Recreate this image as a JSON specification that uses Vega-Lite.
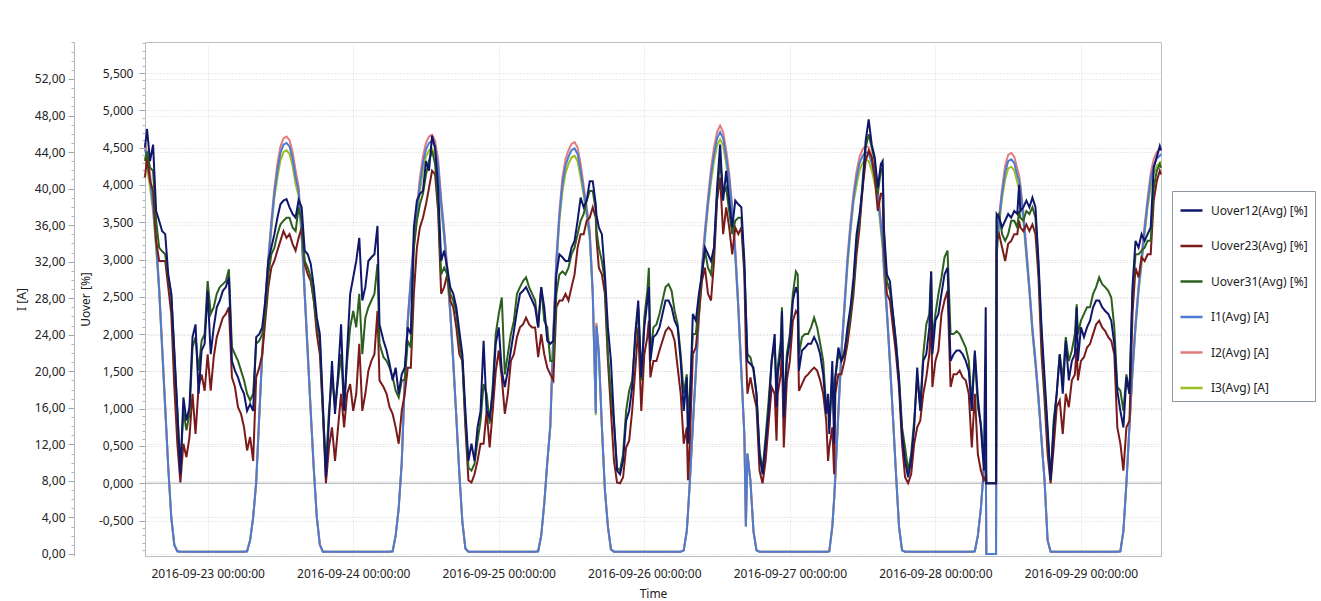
{
"$schema":"https://vega.github.io/schema/vega-lite/v6.json",
"width":1016,"height":514,
"autosize":{"type":"none"},
"padding":{"left":145,"top":42,"right":160,"bottom":45},
"background":"#ffffff",
"config":{
 "font":"Noto Sans",
 "view":{"stroke":"#b9bec6","strokeWidth":1},
 "axis":{"labelFont":"Noto Sans","labelFontSize":12,"labelColor":"#222222","titleFont":"Noto Sans","titleFontSize":12,"titleFontWeight":"normal","titleColor":"#222222","gridColor":"#d8d8d8","gridDash":[1,2],"domainColor":"#b9bec6","tickColor":"#a0a6ae"}
},
"data":{"values":[
{"t":"2016-09-22T13:40","u12":4.5,"u23":4.1,"u31":4.32,"i1":44.3,"i2":45.0,"i3":43.5},
{"t":"2016-09-22T14:00","u12":4.75,"u23":4.37,"u31":4.45,"i1":43.2,"i2":43.9,"i3":42.4},
{"t":"2016-09-22T14:30","u12":4.32,"u23":4.05,"u31":4.23,"i1":41.0,"i2":41.7,"i3":40.2},
{"t":"2016-09-22T15:00","u12":4.54,"u23":3.92,"u31":4.19,"i1":38.0,"i2":38.5,"i3":37.5},
{"t":"2016-09-22T15:30","u12":3.65,"u23":3.25,"u31":3.52,"i1":34.0,"i2":34.5,"i3":33.5},
{"t":"2016-09-22T16:00","u12":3.52,"u23":2.98,"u31":3.16,"i1":29.0,"i2":29.3,"i3":28.7},
{"t":"2016-09-22T16:30","u12":3.38,"u23":2.98,"u31":3.11,"i1":22.5,"i2":22.8,"i3":22.2},
{"t":"2016-09-22T17:00","u12":3.34,"u23":2.98,"u31":3.07,"i1":16.0,"i2":16.3,"i3":15.7},
{"t":"2016-09-22T17:30","u12":2.8,"u23":2.63,"u31":2.76,"i1":9.5,"i2":9.5,"i3":9.5},
{"t":"2016-09-22T18:00","u12":2.54,"u23":2.27,"u31":2.54,"i1":4.0,"i2":4.0,"i3":4.0},
{"t":"2016-09-22T18:30","u12":1.78,"u23":1.29,"u31":1.73,"i1":1.0,"i2":1.0,"i3":1.0},
{"t":"2016-09-22T19:00","u12":0.97,"u23":0.53,"u31":0.97,"i1":0.3,"i2":0.3,"i3":0.3},
{"t":"2016-09-22T19:30","u12":0.12,"u23":0.01,"u31":0.21,"i1":0.25,"i2":0.25,"i3":0.25},
{"t":"2016-09-22T20:00","u12":1.15,"u23":0.53,"u31":0.97,"i1":0.25,"i2":0.25,"i3":0.25},
{"t":"2016-09-22T20:30","u12":0.84,"u23":0.35,"u31":0.71,"i1":0.25,"i2":0.25,"i3":0.25},
{"t":"2016-09-22T21:00","u12":1.02,"u23":0.62,"u31":0.93,"i1":0.25,"i2":0.25,"i3":0.25},
{"t":"2016-09-22T21:30","u12":1.96,"u23":1.2,"u31":1.82,"i1":0.25,"i2":0.25,"i3":0.25},
{"t":"2016-09-22T22:00","u12":2.13,"u23":0.66,"u31":1.96,"i1":0.25,"i2":0.25,"i3":0.25},
{"t":"2016-09-22T22:30","u12":1.2,"u23":1.29,"u31":1.51,"i1":0.25,"i2":0.25,"i3":0.25},
{"t":"2016-09-22T23:00","u12":1.78,"u23":1.46,"u31":1.91,"i1":0.25,"i2":0.25,"i3":0.25},
{"t":"2016-09-22T23:30","u12":1.87,"u23":1.24,"u31":2.0,"i1":0.25,"i2":0.25,"i3":0.25},
{"t":"2016-09-23T00:00","u12":2.58,"u23":1.73,"u31":2.71,"i1":0.25,"i2":0.25,"i3":0.25},
{"t":"2016-09-23T00:30","u12":1.73,"u23":1.24,"u31":2.27,"i1":0.25,"i2":0.25,"i3":0.25},
{"t":"2016-09-23T01:00","u12":2.09,"u23":1.69,"u31":2.36,"i1":0.25,"i2":0.25,"i3":0.25},
{"t":"2016-09-23T01:30","u12":2.36,"u23":1.96,"u31":2.54,"i1":0.25,"i2":0.25,"i3":0.25},
{"t":"2016-09-23T02:00","u12":2.45,"u23":2.09,"u31":2.63,"i1":0.25,"i2":0.25,"i3":0.25},
{"t":"2016-09-23T02:30","u12":2.58,"u23":2.22,"u31":2.67,"i1":0.25,"i2":0.25,"i3":0.25},
{"t":"2016-09-23T03:00","u12":2.63,"u23":2.27,"u31":2.71,"i1":0.25,"i2":0.25,"i3":0.25},
{"t":"2016-09-23T03:30","u12":2.76,"u23":2.36,"u31":2.87,"i1":0.25,"i2":0.25,"i3":0.25},
{"t":"2016-09-23T04:00","u12":1.64,"u23":1.42,"u31":1.82,"i1":0.25,"i2":0.25,"i3":0.25},
{"t":"2016-09-23T04:30","u12":1.51,"u23":1.29,"u31":1.73,"i1":0.25,"i2":0.25,"i3":0.25},
{"t":"2016-09-23T05:00","u12":1.42,"u23":1.02,"u31":1.64,"i1":0.25,"i2":0.25,"i3":0.25},
{"t":"2016-09-23T05:30","u12":1.29,"u23":0.93,"u31":1.51,"i1":0.25,"i2":0.25,"i3":0.25},
{"t":"2016-09-23T06:00","u12":1.2,"u23":0.75,"u31":1.38,"i1":0.25,"i2":0.25,"i3":0.25},
{"t":"2016-09-23T06:30","u12":0.97,"u23":0.44,"u31":1.2,"i1":0.3,"i2":0.3,"i3":0.3},
{"t":"2016-09-23T07:00","u12":1.06,"u23":0.62,"u31":1.11,"i1":1.5,"i2":1.5,"i3":1.5},
{"t":"2016-09-23T07:30","u12":0.97,"u23":0.3,"u31":1.2,"i1":4.0,"i2":4.0,"i3":4.0},
{"t":"2016-09-23T08:00","u12":1.96,"u23":1.42,"u31":1.87,"i1":7.8,"i2":7.8,"i3":7.8},
{"t":"2016-09-23T08:30","u12":2.0,"u23":1.55,"u31":1.91,"i1":15.0,"i2":15.0,"i3":15.0},
{"t":"2016-09-23T09:00","u12":2.09,"u23":1.73,"u31":2.0,"i1":22.0,"i2":22.3,"i3":21.7},
{"t":"2016-09-23T09:30","u12":2.45,"u23":2.18,"u31":2.27,"i1":27.5,"i2":27.8,"i3":27.2},
{"t":"2016-09-23T10:00","u12":2.98,"u23":2.63,"u31":2.8,"i1":32.0,"i2":32.5,"i3":31.5},
{"t":"2016-09-23T10:30","u12":3.16,"u23":2.89,"u31":3.07,"i1":36.0,"i2":36.5,"i3":35.5},
{"t":"2016-09-23T11:00","u12":3.34,"u23":2.98,"u31":3.16,"i1":39.5,"i2":40.0,"i3":39.0},
{"t":"2016-09-23T11:30","u12":3.56,"u23":3.12,"u31":3.34,"i1":42.0,"i2":42.7,"i3":41.2},
{"t":"2016-09-23T12:00","u12":3.74,"u23":3.25,"u31":3.47,"i1":43.9,"i2":44.6,"i3":43.1},
{"t":"2016-09-23T12:30","u12":3.79,"u23":3.38,"u31":3.52,"i1":44.8,"i2":45.5,"i3":44.0},
{"t":"2016-09-23T13:00","u12":3.81,"u23":3.29,"u31":3.56,"i1":45.0,"i2":45.7,"i3":44.2},
{"t":"2016-09-23T13:30","u12":3.7,"u23":3.34,"u31":3.56,"i1":44.6,"i2":45.3,"i3":43.8},
{"t":"2016-09-23T14:00","u12":3.61,"u23":3.21,"u31":3.43,"i1":43.3,"i2":44.0,"i3":42.5},
{"t":"2016-09-23T14:30","u12":3.56,"u23":3.12,"u31":3.38,"i1":41.3,"i2":42.0,"i3":40.5},
{"t":"2016-09-23T15:00","u12":3.8,"u23":3.29,"u31":3.7,"i1":39.7,"i2":40.2,"i3":39.2},
{"t":"2016-09-23T15:30","u12":3.7,"u23":3.43,"u31":3.52,"i1":35.0,"i2":35.5,"i3":34.5},
{"t":"2016-09-23T16:00","u12":3.12,"u23":2.94,"u31":2.98,"i1":28.5,"i2":28.8,"i3":28.2},
{"t":"2016-09-23T16:30","u12":3.07,"u23":2.8,"u31":2.89,"i1":22.0,"i2":22.3,"i3":21.7},
{"t":"2016-09-23T17:00","u12":2.94,"u23":2.71,"u31":2.76,"i1":15.5,"i2":15.5,"i3":15.5},
{"t":"2016-09-23T17:30","u12":2.63,"u23":2.45,"u31":2.45,"i1":9.3,"i2":9.3,"i3":9.3},
{"t":"2016-09-23T18:00","u12":2.22,"u23":2.0,"u31":2.13,"i1":4.0,"i2":4.0,"i3":4.0},
{"t":"2016-09-23T18:30","u12":2.0,"u23":1.73,"u31":1.91,"i1":1.0,"i2":1.0,"i3":1.0},
{"t":"2016-09-23T19:00","u12":1.07,"u23":0.93,"u31":0.97,"i1":0.25,"i2":0.25,"i3":0.25},
{"t":"2016-09-23T19:30","u12":0.08,"u23":0.0,"u31":0.21,"i1":0.25,"i2":0.25,"i3":0.25},
{"t":"2016-09-23T20:00","u12":0.84,"u23":0.48,"u31":0.97,"i1":0.25,"i2":0.25,"i3":0.25},
{"t":"2016-09-23T20:30","u12":1.64,"u23":0.75,"u31":1.42,"i1":0.25,"i2":0.25,"i3":0.25},
{"t":"2016-09-23T21:00","u12":0.93,"u23":0.3,"u31":1.02,"i1":0.25,"i2":0.25,"i3":0.25},
{"t":"2016-09-23T21:30","u12":1.46,"u23":0.75,"u31":1.38,"i1":0.25,"i2":0.25,"i3":0.25},
{"t":"2016-09-23T22:00","u12":2.13,"u23":1.2,"u31":1.73,"i1":0.25,"i2":0.25,"i3":0.25},
{"t":"2016-09-23T22:30","u12":0.97,"u23":0.75,"u31":1.02,"i1":0.25,"i2":0.25,"i3":0.25},
{"t":"2016-09-23T23:00","u12":1.78,"u23":1.2,"u31":1.64,"i1":0.25,"i2":0.25,"i3":0.25},
{"t":"2016-09-23T23:30","u12":2.54,"u23":1.33,"u31":2.09,"i1":0.25,"i2":0.25,"i3":0.25},
{"t":"2016-09-24T00:00","u12":2.76,"u23":0.97,"u31":2.31,"i1":0.25,"i2":0.25,"i3":0.25},
{"t":"2016-09-24T00:30","u12":2.98,"u23":1.2,"u31":2.09,"i1":0.25,"i2":0.25,"i3":0.25},
{"t":"2016-09-24T01:00","u12":3.29,"u23":1.87,"u31":2.54,"i1":0.25,"i2":0.25,"i3":0.25},
{"t":"2016-09-24T01:30","u12":2.45,"u23":0.97,"u31":1.73,"i1":0.25,"i2":0.25,"i3":0.25},
{"t":"2016-09-24T02:00","u12":2.63,"u23":1.2,"u31":2.22,"i1":0.25,"i2":0.25,"i3":0.25},
{"t":"2016-09-24T02:30","u12":2.98,"u23":1.51,"u31":2.36,"i1":0.25,"i2":0.25,"i3":0.25},
{"t":"2016-09-24T03:00","u12":3.03,"u23":1.64,"u31":2.45,"i1":0.25,"i2":0.25,"i3":0.25},
{"t":"2016-09-24T03:30","u12":3.07,"u23":1.73,"u31":2.54,"i1":0.25,"i2":0.25,"i3":0.25},
{"t":"2016-09-24T04:00","u12":3.45,"u23":2.31,"u31":2.94,"i1":0.25,"i2":0.25,"i3":0.25},
{"t":"2016-09-24T04:20","u12":2.13,"u23":1.38,"u31":1.87,"i1":0.25,"i2":0.25,"i3":0.25},
{"t":"2016-09-24T05:00","u12":1.91,"u23":1.29,"u31":1.69,"i1":0.25,"i2":0.25,"i3":0.25},
{"t":"2016-09-24T05:30","u12":1.78,"u23":1.2,"u31":1.64,"i1":0.25,"i2":0.25,"i3":0.25},
{"t":"2016-09-24T06:00","u12":1.6,"u23":1.02,"u31":1.55,"i1":0.25,"i2":0.25,"i3":0.25},
{"t":"2016-09-24T06:30","u12":1.38,"u23":0.93,"u31":1.42,"i1":0.3,"i2":0.3,"i3":0.3},
{"t":"2016-09-24T07:00","u12":1.55,"u23":0.75,"u31":1.24,"i1":2.0,"i2":2.0,"i3":2.0},
{"t":"2016-09-24T07:30","u12":1.2,"u23":0.53,"u31":1.15,"i1":5.0,"i2":5.0,"i3":5.0},
{"t":"2016-09-24T08:00","u12":1.46,"u23":0.97,"u31":1.38,"i1":10.0,"i2":10.0,"i3":10.0},
{"t":"2016-09-24T08:30","u12":1.55,"u23":1.2,"u31":1.38,"i1":19.0,"i2":19.3,"i3":18.7},
{"t":"2016-09-24T09:00","u12":2.09,"u23":1.55,"u31":1.91,"i1":25.5,"i2":25.8,"i3":25.2},
{"t":"2016-09-24T09:30","u12":2.0,"u23":1.55,"u31":1.82,"i1":30.0,"i2":30.3,"i3":29.7},
{"t":"2016-09-24T10:00","u12":3.43,"u23":2.54,"u31":3.16,"i1":34.0,"i2":34.5,"i3":33.5},
{"t":"2016-09-24T10:30","u12":3.79,"u23":3.16,"u31":3.52,"i1":37.5,"i2":38.0,"i3":37.0},
{"t":"2016-09-24T11:00","u12":3.88,"u23":3.43,"u31":3.74,"i1":40.5,"i2":41.2,"i3":39.7},
{"t":"2016-09-24T11:30","u12":3.92,"u23":3.56,"u31":3.88,"i1":42.8,"i2":43.5,"i3":42.0},
{"t":"2016-09-24T12:00","u12":4.32,"u23":3.74,"u31":4.14,"i1":44.3,"i2":45.0,"i3":43.5},
{"t":"2016-09-24T12:30","u12":4.19,"u23":3.96,"u31":4.32,"i1":45.0,"i2":45.7,"i3":44.2},
{"t":"2016-09-24T13:00","u12":4.66,"u23":4.19,"u31":4.46,"i1":45.2,"i2":45.9,"i3":44.4},
{"t":"2016-09-24T13:30","u12":4.5,"u23":4.14,"u31":4.28,"i1":44.5,"i2":45.2,"i3":43.7},
{"t":"2016-09-24T14:00","u12":3.96,"u23":3.65,"u31":3.74,"i1":42.5,"i2":43.2,"i3":41.7},
{"t":"2016-09-24T14:30","u12":2.98,"u23":2.54,"u31":2.8,"i1":38.5,"i2":39.0,"i3":38.0},
{"t":"2016-09-24T15:00","u12":3.12,"u23":2.63,"u31":2.89,"i1":35.0,"i2":35.5,"i3":34.5},
{"t":"2016-09-24T15:30","u12":2.89,"u23":2.8,"u31":2.8,"i1":31.0,"i2":31.5,"i3":30.5},
{"t":"2016-09-24T16:00","u12":2.63,"u23":2.45,"u31":2.54,"i1":26.5,"i2":26.8,"i3":26.2},
{"t":"2016-09-24T16:30","u12":2.54,"u23":2.36,"u31":2.45,"i1":21.0,"i2":21.3,"i3":20.7},
{"t":"2016-09-24T17:00","u12":2.36,"u23":2.09,"u31":2.27,"i1":15.0,"i2":15.0,"i3":15.0},
{"t":"2016-09-24T17:30","u12":2.04,"u23":1.73,"u31":1.91,"i1":8.8,"i2":8.8,"i3":8.8},
{"t":"2016-09-24T18:00","u12":1.73,"u23":1.64,"u31":1.64,"i1":3.5,"i2":3.5,"i3":3.5},
{"t":"2016-09-24T18:30","u12":0.97,"u23":0.75,"u31":0.84,"i1":0.6,"i2":0.6,"i3":0.6},
{"t":"2016-09-24T19:00","u12":0.3,"u23":0.04,"u31":0.21,"i1":0.25,"i2":0.25,"i3":0.25},
{"t":"2016-09-24T19:30","u12":0.53,"u23":0.01,"u31":0.17,"i1":0.25,"i2":0.25,"i3":0.25},
{"t":"2016-09-24T20:00","u12":0.3,"u23":0.12,"u31":0.26,"i1":0.25,"i2":0.25,"i3":0.25},
{"t":"2016-09-24T20:30","u12":0.75,"u23":0.3,"u31":0.57,"i1":0.25,"i2":0.25,"i3":0.25},
{"t":"2016-09-24T21:00","u12":0.97,"u23":0.53,"u31":0.84,"i1":0.25,"i2":0.25,"i3":0.25},
{"t":"2016-09-24T21:30","u12":1.91,"u23":0.53,"u31":1.33,"i1":0.25,"i2":0.25,"i3":0.25},
{"t":"2016-09-24T22:00","u12":0.97,"u23":0.97,"u31":1.2,"i1":0.25,"i2":0.25,"i3":0.25},
{"t":"2016-09-24T22:30","u12":0.88,"u23":0.48,"u31":0.8,"i1":0.25,"i2":0.25,"i3":0.25},
{"t":"2016-09-24T23:00","u12":1.2,"u23":0.97,"u31":1.29,"i1":0.25,"i2":0.25,"i3":0.25},
{"t":"2016-09-24T23:30","u12":1.87,"u23":1.5,"u31":2.0,"i1":0.25,"i2":0.25,"i3":0.25},
{"t":"2016-09-25T00:00","u12":2.09,"u23":1.78,"u31":2.27,"i1":0.25,"i2":0.25,"i3":0.25},
{"t":"2016-09-25T00:30","u12":1.51,"u23":1.42,"u31":2.49,"i1":0.25,"i2":0.25,"i3":0.25},
{"t":"2016-09-25T01:00","u12":1.29,"u23":0.93,"u31":1.46,"i1":0.25,"i2":0.25,"i3":0.25},
{"t":"2016-09-25T01:30","u12":1.51,"u23":1.2,"u31":1.73,"i1":0.25,"i2":0.25,"i3":0.25},
{"t":"2016-09-25T02:00","u12":1.78,"u23":1.64,"u31":2.0,"i1":0.25,"i2":0.25,"i3":0.25},
{"t":"2016-09-25T02:30","u12":2.04,"u23":1.73,"u31":2.18,"i1":0.25,"i2":0.25,"i3":0.25},
{"t":"2016-09-25T03:00","u12":2.31,"u23":1.96,"u31":2.54,"i1":0.25,"i2":0.25,"i3":0.25},
{"t":"2016-09-25T03:30","u12":2.54,"u23":2.09,"u31":2.63,"i1":0.25,"i2":0.25,"i3":0.25},
{"t":"2016-09-25T04:00","u12":2.58,"u23":2.13,"u31":2.71,"i1":0.25,"i2":0.25,"i3":0.25},
{"t":"2016-09-25T04:30","u12":2.63,"u23":2.22,"u31":2.76,"i1":0.25,"i2":0.25,"i3":0.25},
{"t":"2016-09-25T05:00","u12":2.54,"u23":2.13,"u31":2.63,"i1":0.25,"i2":0.25,"i3":0.25},
{"t":"2016-09-25T05:30","u12":2.45,"u23":2.09,"u31":2.54,"i1":0.25,"i2":0.25,"i3":0.25},
{"t":"2016-09-25T06:00","u12":2.36,"u23":2.09,"u31":2.45,"i1":0.25,"i2":0.25,"i3":0.25},
{"t":"2016-09-25T06:30","u12":2.09,"u23":1.69,"u31":2.09,"i1":0.3,"i2":0.3,"i3":0.3},
{"t":"2016-09-25T07:00","u12":2.63,"u23":2.0,"u31":2.63,"i1":2.0,"i2":2.0,"i3":2.0},
{"t":"2016-09-25T07:30","u12":2.36,"u23":1.73,"u31":2.18,"i1":5.5,"i2":5.5,"i3":5.5},
{"t":"2016-09-25T08:00","u12":1.91,"u23":1.55,"u31":2.09,"i1":10.0,"i2":10.0,"i3":10.0},
{"t":"2016-09-25T08:30","u12":1.87,"u23":1.46,"u31":1.64,"i1":14.0,"i2":14.0,"i3":14.0},
{"t":"2016-09-25T09:00","u12":1.91,"u23":1.38,"u31":1.64,"i1":24.0,"i2":24.3,"i3":23.7},
{"t":"2016-09-25T09:30","u12":2.8,"u23":2.36,"u31":2.54,"i1":32.0,"i2":32.5,"i3":31.5},
{"t":"2016-09-25T10:00","u12":3.07,"u23":2.45,"u31":2.8,"i1":37.0,"i2":37.5,"i3":36.5},
{"t":"2016-09-25T10:30","u12":3.03,"u23":2.45,"u31":2.84,"i1":40.5,"i2":41.2,"i3":39.7},
{"t":"2016-09-25T11:00","u12":2.98,"u23":2.54,"u31":2.8,"i1":42.5,"i2":43.2,"i3":41.7},
{"t":"2016-09-25T11:30","u12":2.98,"u23":2.45,"u31":2.89,"i1":43.5,"i2":44.2,"i3":42.7},
{"t":"2016-09-25T12:00","u12":3.16,"u23":2.63,"u31":3.07,"i1":44.2,"i2":44.9,"i3":43.4},
{"t":"2016-09-25T12:30","u12":3.25,"u23":2.8,"u31":3.16,"i1":44.4,"i2":45.1,"i3":43.6},
{"t":"2016-09-25T13:00","u12":3.52,"u23":3.16,"u31":3.34,"i1":43.8,"i2":44.5,"i3":43.0},
{"t":"2016-09-25T13:30","u12":3.83,"u23":3.34,"u31":3.52,"i1":42.0,"i2":42.7,"i3":41.2},
{"t":"2016-09-25T14:00","u12":3.7,"u23":3.34,"u31":3.61,"i1":39.8,"i2":40.3,"i3":39.3},
{"t":"2016-09-25T14:30","u12":3.79,"u23":3.52,"u31":3.79,"i1":37.5,"i2":38.0,"i3":37.0},
{"t":"2016-09-25T15:00","u12":4.05,"u23":3.56,"u31":3.92,"i1":35.0,"i2":35.5,"i3":34.5},
{"t":"2016-09-25T15:30","u12":4.05,"u23":3.7,"u31":3.92,"i1":28.5,"i2":28.8,"i3":28.2},
{"t":"2016-09-25T16:00","u12":3.74,"u23":3.56,"u31":3.65,"i1":15.4,"i2":15.6,"i3":15.2},
{"t":"2016-09-25T16:06","u12":3.6,"u23":3.3,"u31":3.4,"i1":25.0,"i2":25.3,"i3":24.7},
{"t":"2016-09-25T16:30","u12":3.43,"u23":2.89,"u31":3.16,"i1":22.0,"i2":22.3,"i3":21.7},
{"t":"2016-09-25T17:00","u12":3.34,"u23":2.8,"u31":2.98,"i1":14.0,"i2":14.0,"i3":14.0},
{"t":"2016-09-25T17:30","u12":2.8,"u23":2.54,"u31":2.71,"i1":7.0,"i2":7.0,"i3":7.0},
{"t":"2016-09-25T18:00","u12":2.09,"u23":1.64,"u31":1.73,"i1":3.0,"i2":3.0,"i3":3.0},
{"t":"2016-09-25T18:30","u12":1.64,"u23":0.97,"u31":1.2,"i1":0.5,"i2":0.5,"i3":0.5},
{"t":"2016-09-25T19:00","u12":0.84,"u23":0.3,"u31":0.8,"i1":0.25,"i2":0.25,"i3":0.25},
{"t":"2016-09-25T19:30","u12":0.17,"u23":0.01,"u31":0.21,"i1":0.25,"i2":0.25,"i3":0.25},
{"t":"2016-09-25T20:00","u12":0.12,"u23":0.0,"u31":0.17,"i1":0.25,"i2":0.25,"i3":0.25},
{"t":"2016-09-25T20:30","u12":0.3,"u23":0.08,"u31":0.39,"i1":0.25,"i2":0.25,"i3":0.25},
{"t":"2016-09-25T21:00","u12":0.84,"u23":0.48,"u31":0.97,"i1":0.25,"i2":0.25,"i3":0.25},
{"t":"2016-09-25T21:30","u12":0.97,"u23":0.57,"u31":1.24,"i1":0.25,"i2":0.25,"i3":0.25},
{"t":"2016-09-25T22:00","u12":1.29,"u23":0.97,"u31":1.38,"i1":0.25,"i2":0.25,"i3":0.25},
{"t":"2016-09-25T22:30","u12":2.0,"u23":1.51,"u31":1.91,"i1":0.25,"i2":0.25,"i3":0.25},
{"t":"2016-09-25T23:00","u12":2.45,"u23":2.09,"u31":2.36,"i1":0.25,"i2":0.25,"i3":0.25},
{"t":"2016-09-25T23:30","u12":1.42,"u23":0.97,"u31":1.38,"i1":0.25,"i2":0.25,"i3":0.25},
{"t":"2016-09-26T00:00","u12":2.09,"u23":1.73,"u31":2.22,"i1":0.25,"i2":0.25,"i3":0.25},
{"t":"2016-09-26T00:30","u12":2.45,"u23":1.96,"u31":2.58,"i1":0.25,"i2":0.25,"i3":0.25},
{"t":"2016-09-26T00:45","u12":2.63,"u23":2.18,"u31":2.89,"i1":0.25,"i2":0.25,"i3":0.25},
{"t":"2016-09-26T01:00","u12":1.64,"u23":1.42,"u31":1.73,"i1":0.25,"i2":0.25,"i3":0.25},
{"t":"2016-09-26T01:30","u12":1.96,"u23":1.64,"u31":2.09,"i1":0.25,"i2":0.25,"i3":0.25},
{"t":"2016-09-26T02:00","u12":2.0,"u23":1.64,"u31":2.13,"i1":0.25,"i2":0.25,"i3":0.25},
{"t":"2016-09-26T02:30","u12":2.09,"u23":1.78,"u31":2.27,"i1":0.25,"i2":0.25,"i3":0.25},
{"t":"2016-09-26T03:00","u12":2.27,"u23":1.91,"u31":2.45,"i1":0.25,"i2":0.25,"i3":0.25},
{"t":"2016-09-26T03:30","u12":2.45,"u23":2.04,"u31":2.63,"i1":0.25,"i2":0.25,"i3":0.25},
{"t":"2016-09-26T04:00","u12":2.45,"u23":2.09,"u31":2.67,"i1":0.25,"i2":0.25,"i3":0.25},
{"t":"2016-09-26T04:30","u12":2.36,"u23":2.04,"u31":2.58,"i1":0.25,"i2":0.25,"i3":0.25},
{"t":"2016-09-26T05:00","u12":2.18,"u23":1.91,"u31":2.31,"i1":0.25,"i2":0.25,"i3":0.25},
{"t":"2016-09-26T05:30","u12":2.09,"u23":1.55,"u31":2.13,"i1":0.25,"i2":0.25,"i3":0.25},
{"t":"2016-09-26T06:00","u12":1.64,"u23":1.2,"u31":1.73,"i1":0.25,"i2":0.25,"i3":0.25},
{"t":"2016-09-26T06:30","u12":0.97,"u23":0.53,"u31":1.2,"i1":0.4,"i2":0.4,"i3":0.4},
{"t":"2016-09-26T07:00","u12":1.42,"u23":0.75,"u31":1.46,"i1":2.5,"i2":2.5,"i3":2.5},
{"t":"2016-09-26T07:12","u12":0.53,"u23":0.04,"u31":0.9,"i1":4.5,"i2":4.5,"i3":4.5},
{"t":"2016-09-26T07:30","u12":0.97,"u23":0.53,"u31":1.2,"i1":7.8,"i2":7.8,"i3":7.8},
{"t":"2016-09-26T08:00","u12":2.27,"u23":1.73,"u31":2.0,"i1":14.0,"i2":14.0,"i3":14.0},
{"t":"2016-09-26T08:30","u12":2.18,"u23":1.82,"u31":2.0,"i1":20.0,"i2":20.3,"i3":19.7},
{"t":"2016-09-26T09:00","u12":2.54,"u23":2.27,"u31":2.45,"i1":26.0,"i2":26.3,"i3":25.7},
{"t":"2016-09-26T09:30","u12":2.8,"u23":2.71,"u31":2.8,"i1":31.0,"i2":31.5,"i3":30.5},
{"t":"2016-09-26T10:00","u12":3.16,"u23":2.89,"u31":3.12,"i1":35.0,"i2":35.5,"i3":34.5},
{"t":"2016-09-26T10:30","u12":3.07,"u23":2.54,"u31":2.89,"i1":38.5,"i2":39.0,"i3":38.0},
{"t":"2016-09-26T11:00","u12":2.98,"u23":2.45,"u31":2.8,"i1":41.5,"i2":42.2,"i3":40.7},
{"t":"2016-09-26T11:30","u12":3.16,"u23":2.98,"u31":3.16,"i1":43.8,"i2":44.5,"i3":43.0},
{"t":"2016-09-26T12:00","u12":3.96,"u23":3.79,"u31":3.88,"i1":45.5,"i2":46.2,"i3":44.7},
{"t":"2016-09-26T12:30","u12":4.54,"u23":4.1,"u31":4.32,"i1":46.2,"i2":46.9,"i3":45.4},
{"t":"2016-09-26T13:00","u12":3.79,"u23":3.34,"u31":3.88,"i1":45.5,"i2":46.2,"i3":44.7},
{"t":"2016-09-26T13:30","u12":4.19,"u23":3.7,"u31":3.96,"i1":43.5,"i2":44.2,"i3":42.7},
{"t":"2016-09-26T14:00","u12":3.79,"u23":3.43,"u31":3.65,"i1":41.0,"i2":41.7,"i3":40.2},
{"t":"2016-09-26T14:30","u12":3.43,"u23":3.07,"u31":3.34,"i1":37.5,"i2":38.0,"i3":37.0},
{"t":"2016-09-26T15:00","u12":3.79,"u23":3.43,"u31":3.52,"i1":33.0,"i2":33.5,"i3":32.5},
{"t":"2016-09-26T15:30","u12":3.74,"u23":3.34,"u31":3.56,"i1":27.0,"i2":27.3,"i3":26.7},
{"t":"2016-09-26T16:00","u12":3.7,"u23":3.43,"u31":3.56,"i1":20.0,"i2":20.3,"i3":19.7},
{"t":"2016-09-26T16:30","u12":2.98,"u23":2.8,"u31":2.89,"i1":13.0,"i2":13.0,"i3":13.0},
{"t":"2016-09-26T16:45","u12":2.3,"u23":1.8,"u31":2.3,"i1":3.0,"i2":3.0,"i3":3.0},
{"t":"2016-09-26T17:00","u12":1.64,"u23":1.2,"u31":1.73,"i1":11.0,"i2":11.0,"i3":11.0},
{"t":"2016-09-26T17:30","u12":1.6,"u23":1.42,"u31":1.69,"i1":8.0,"i2":8.0,"i3":8.0},
{"t":"2016-09-26T18:00","u12":1.55,"u23":1.2,"u31":1.51,"i1":2.5,"i2":2.5,"i3":2.5},
{"t":"2016-09-26T18:30","u12":1.2,"u23":1.02,"u31":1.2,"i1":0.4,"i2":0.4,"i3":0.4},
{"t":"2016-09-26T19:00","u12":0.39,"u23":0.17,"u31":0.44,"i1":0.25,"i2":0.25,"i3":0.25},
{"t":"2016-09-26T19:30","u12":0.12,"u23":0.0,"u31":0.17,"i1":0.25,"i2":0.25,"i3":0.25},
{"t":"2016-09-26T20:00","u12":0.53,"u23":0.3,"u31":0.62,"i1":0.25,"i2":0.25,"i3":0.25},
{"t":"2016-09-26T20:30","u12":0.97,"u23":0.8,"u31":1.11,"i1":0.25,"i2":0.25,"i3":0.25},
{"t":"2016-09-26T21:00","u12":1.64,"u23":1.29,"u31":1.64,"i1":0.25,"i2":0.25,"i3":0.25},
{"t":"2016-09-26T21:30","u12":2.0,"u23":1.2,"u31":1.87,"i1":0.25,"i2":0.25,"i3":0.25},
{"t":"2016-09-26T21:48","u12":1.02,"u23":0.57,"u31":1.2,"i1":0.25,"i2":0.25,"i3":0.25},
{"t":"2016-09-26T22:00","u12":1.46,"u23":1.2,"u31":1.55,"i1":0.25,"i2":0.25,"i3":0.25},
{"t":"2016-09-26T22:30","u12":1.78,"u23":1.46,"u31":1.91,"i1":0.25,"i2":0.25,"i3":0.25},
{"t":"2016-09-26T22:42","u12":2.31,"u23":1.82,"u31":2.36,"i1":0.25,"i2":0.25,"i3":0.25},
{"t":"2016-09-26T23:00","u12":0.88,"u23":0.48,"u31":0.97,"i1":0.25,"i2":0.25,"i3":0.25},
{"t":"2016-09-26T23:30","u12":1.64,"u23":1.38,"u31":1.73,"i1":0.25,"i2":0.25,"i3":0.25},
{"t":"2016-09-27T00:00","u12":1.91,"u23":1.64,"u31":2.0,"i1":0.25,"i2":0.25,"i3":0.25},
{"t":"2016-09-27T00:30","u12":2.45,"u23":2.18,"u31":2.54,"i1":0.25,"i2":0.25,"i3":0.25},
{"t":"2016-09-27T01:00","u12":2.63,"u23":2.31,"u31":2.84,"i1":0.25,"i2":0.25,"i3":0.25},
{"t":"2016-09-27T01:18","u12":2.54,"u23":2.27,"u31":2.8,"i1":0.25,"i2":0.25,"i3":0.25},
{"t":"2016-09-27T01:30","u12":1.51,"u23":1.24,"u31":1.73,"i1":0.25,"i2":0.25,"i3":0.25},
{"t":"2016-09-27T02:00","u12":1.78,"u23":1.33,"u31":1.96,"i1":0.25,"i2":0.25,"i3":0.25},
{"t":"2016-09-27T02:30","u12":1.82,"u23":1.42,"u31":2.0,"i1":0.25,"i2":0.25,"i3":0.25},
{"t":"2016-09-27T03:00","u12":1.87,"u23":1.46,"u31":2.0,"i1":0.25,"i2":0.25,"i3":0.25},
{"t":"2016-09-27T03:30","u12":1.87,"u23":1.51,"u31":2.09,"i1":0.25,"i2":0.25,"i3":0.25},
{"t":"2016-09-27T04:00","u12":1.96,"u23":1.55,"u31":2.22,"i1":0.25,"i2":0.25,"i3":0.25},
{"t":"2016-09-27T04:30","u12":1.87,"u23":1.51,"u31":2.09,"i1":0.25,"i2":0.25,"i3":0.25},
{"t":"2016-09-27T05:00","u12":1.73,"u23":1.38,"u31":1.87,"i1":0.25,"i2":0.25,"i3":0.25},
{"t":"2016-09-27T05:30","u12":1.46,"u23":1.2,"u31":1.64,"i1":0.25,"i2":0.25,"i3":0.25},
{"t":"2016-09-27T06:00","u12":0.93,"u23":0.84,"u31":1.02,"i1":0.25,"i2":0.25,"i3":0.25},
{"t":"2016-09-27T06:18","u12":1.2,"u23":0.3,"u31":1.1,"i1":0.25,"i2":0.25,"i3":0.25},
{"t":"2016-09-27T06:30","u12":0.66,"u23":0.48,"u31":0.75,"i1":0.3,"i2":0.3,"i3":0.3},
{"t":"2016-09-27T07:00","u12":1.64,"u23":0.75,"u31":1.42,"i1":3.0,"i2":3.0,"i3":3.0},
{"t":"2016-09-27T07:18","u12":0.53,"u23":0.12,"u31":0.8,"i1":6.0,"i2":6.0,"i3":6.0},
{"t":"2016-09-27T07:30","u12":1.42,"u23":1.2,"u31":1.42,"i1":8.5,"i2":8.5,"i3":8.5},
{"t":"2016-09-27T08:00","u12":1.82,"u23":1.46,"u31":1.73,"i1":15.5,"i2":15.8,"i3":15.2},
{"t":"2016-09-27T08:30","u12":1.64,"u23":1.46,"u31":1.64,"i1":22.0,"i2":22.3,"i3":21.7},
{"t":"2016-09-27T09:00","u12":1.73,"u23":1.64,"u31":1.78,"i1":27.0,"i2":27.3,"i3":26.7},
{"t":"2016-09-27T09:30","u12":2.09,"u23":1.87,"u31":2.0,"i1":32.0,"i2":32.5,"i3":31.5},
{"t":"2016-09-27T10:00","u12":2.36,"u23":2.18,"u31":2.27,"i1":35.8,"i2":36.3,"i3":35.3},
{"t":"2016-09-27T10:30","u12":2.76,"u23":2.54,"u31":2.63,"i1":39.0,"i2":39.5,"i3":38.5},
{"t":"2016-09-27T11:00","u12":3.34,"u23":3.07,"u31":3.25,"i1":41.2,"i2":41.9,"i3":40.4},
{"t":"2016-09-27T11:30","u12":3.61,"u23":3.43,"u31":3.52,"i1":42.8,"i2":43.5,"i3":42.0},
{"t":"2016-09-27T12:00","u12":3.96,"u23":3.96,"u31":4.05,"i1":43.6,"i2":44.3,"i3":42.8},
{"t":"2016-09-27T12:30","u12":4.59,"u23":4.32,"u31":4.5,"i1":44.0,"i2":44.7,"i3":43.2},
{"t":"2016-09-27T13:00","u12":4.88,"u23":4.46,"u31":4.68,"i1":43.8,"i2":44.5,"i3":43.0},
{"t":"2016-09-27T13:30","u12":4.54,"u23":4.37,"u31":4.5,"i1":42.8,"i2":43.5,"i3":42.0},
{"t":"2016-09-27T14:00","u12":4.37,"u23":4.1,"u31":4.32,"i1":41.3,"i2":42.0,"i3":40.5},
{"t":"2016-09-27T14:30","u12":3.96,"u23":3.65,"u31":3.88,"i1":39.5,"i2":40.0,"i3":39.0},
{"t":"2016-09-27T15:00","u12":4.28,"u23":3.88,"u31":4.19,"i1":36.0,"i2":36.5,"i3":35.5},
{"t":"2016-09-27T15:18","u12":4.32,"u23":3.88,"u31":4.23,"i1":34.0,"i2":34.5,"i3":33.5},
{"t":"2016-09-27T15:30","u12":3.43,"u23":3.16,"u31":3.34,"i1":31.5,"i2":32.0,"i3":31.0},
{"t":"2016-09-27T16:00","u12":2.8,"u23":2.54,"u31":2.71,"i1":26.5,"i2":26.8,"i3":26.2},
{"t":"2016-09-27T16:30","u12":2.71,"u23":2.45,"u31":2.58,"i1":21.0,"i2":21.3,"i3":20.7},
{"t":"2016-09-27T17:00","u12":2.27,"u23":2.09,"u31":2.27,"i1":15.0,"i2":15.0,"i3":15.0},
{"t":"2016-09-27T17:30","u12":1.87,"u23":1.73,"u31":1.91,"i1":8.8,"i2":8.8,"i3":8.8},
{"t":"2016-09-27T18:00","u12":1.38,"u23":1.29,"u31":1.42,"i1":3.0,"i2":3.0,"i3":3.0},
{"t":"2016-09-27T18:30","u12":0.66,"u23":0.53,"u31":0.75,"i1":0.4,"i2":0.4,"i3":0.4},
{"t":"2016-09-27T19:00","u12":0.3,"u23":0.08,"u31":0.48,"i1":0.25,"i2":0.25,"i3":0.25},
{"t":"2016-09-27T19:30","u12":0.08,"u23":0.0,"u31":0.17,"i1":0.25,"i2":0.25,"i3":0.25},
{"t":"2016-09-27T20:00","u12":0.3,"u23":0.12,"u31":0.39,"i1":0.25,"i2":0.25,"i3":0.25},
{"t":"2016-09-27T20:30","u12":0.75,"u23":0.53,"u31":0.84,"i1":0.25,"i2":0.25,"i3":0.25},
{"t":"2016-09-27T21:00","u12":1.55,"u23":0.75,"u31":1.42,"i1":0.25,"i2":0.25,"i3":0.25},
{"t":"2016-09-27T21:30","u12":0.97,"u23":0.84,"u31":1.02,"i1":0.25,"i2":0.25,"i3":0.25},
{"t":"2016-09-27T22:00","u12":1.64,"u23":1.2,"u31":1.73,"i1":0.25,"i2":0.25,"i3":0.25},
{"t":"2016-09-27T22:30","u12":1.73,"u23":1.42,"u31":2.13,"i1":0.25,"i2":0.25,"i3":0.25},
{"t":"2016-09-27T23:00","u12":2.09,"u23":1.73,"u31":2.27,"i1":0.25,"i2":0.25,"i3":0.25},
{"t":"2016-09-27T23:18","u12":2.84,"u23":2.27,"u31":2.84,"i1":0.25,"i2":0.25,"i3":0.25},
{"t":"2016-09-27T23:30","u12":1.73,"u23":1.29,"u31":1.91,"i1":0.25,"i2":0.25,"i3":0.25},
{"t":"2016-09-28T00:00","u12":2.18,"u23":1.64,"u31":2.27,"i1":0.25,"i2":0.25,"i3":0.25},
{"t":"2016-09-28T00:30","u12":2.27,"u23":1.78,"u31":2.54,"i1":0.25,"i2":0.25,"i3":0.25},
{"t":"2016-09-28T01:00","u12":2.54,"u23":2.27,"u31":2.76,"i1":0.25,"i2":0.25,"i3":0.25},
{"t":"2016-09-28T01:30","u12":2.8,"u23":2.45,"u31":3.03,"i1":0.25,"i2":0.25,"i3":0.25},
{"t":"2016-09-28T02:00","u12":2.89,"u23":2.58,"u31":3.12,"i1":0.25,"i2":0.25,"i3":0.25},
{"t":"2016-09-28T02:30","u12":1.64,"u23":1.29,"u31":2.0,"i1":0.25,"i2":0.25,"i3":0.25},
{"t":"2016-09-28T03:00","u12":1.73,"u23":1.46,"u31":2.0,"i1":0.25,"i2":0.25,"i3":0.25},
{"t":"2016-09-28T03:30","u12":1.78,"u23":1.46,"u31":2.04,"i1":0.25,"i2":0.25,"i3":0.25},
{"t":"2016-09-28T04:00","u12":1.78,"u23":1.51,"u31":2.0,"i1":0.25,"i2":0.25,"i3":0.25},
{"t":"2016-09-28T04:30","u12":1.73,"u23":1.42,"u31":1.91,"i1":0.25,"i2":0.25,"i3":0.25},
{"t":"2016-09-28T05:00","u12":1.64,"u23":1.38,"u31":1.82,"i1":0.25,"i2":0.25,"i3":0.25},
{"t":"2016-09-28T05:30","u12":1.51,"u23":1.2,"u31":1.64,"i1":0.25,"i2":0.25,"i3":0.25},
{"t":"2016-09-28T06:00","u12":0.97,"u23":0.48,"u31":1.07,"i1":0.25,"i2":0.25,"i3":0.25},
{"t":"2016-09-28T06:30","u12":1.78,"u23":1.2,"u31":1.73,"i1":0.3,"i2":0.3,"i3":0.3},
{"t":"2016-09-28T07:00","u12":1.15,"u23":0.39,"u31":1.02,"i1":2.0,"i2":2.0,"i3":2.0},
{"t":"2016-09-28T07:30","u12":0.75,"u23":0.17,"u31":0.8,"i1":5.0,"i2":5.0,"i3":5.0},
{"t":"2016-09-28T08:00","u12":0.17,"u23":0.04,"u31":0.3,"i1":9.5,"i2":9.5,"i3":9.5},
{"t":"2016-09-28T08:18","u12":2.36,"u23":0.1,"u31":0.3,"i1":12.0,"i2":12.0,"i3":12.0},
{"t":"2016-09-28T08:24","u12":0,"u23":0,"u31":0,"i1":0,"i2":0,"i3":0},
{"t":"2016-09-28T10:00","u12":0,"u23":0,"u31":0,"i1":0,"i2":0,"i3":0},
{"t":"2016-09-28T10:06","u12":3.61,"u23":3.25,"u31":3.56,"i1":33.0,"i2":33.5,"i3":32.5},
{"t":"2016-09-28T10:30","u12":3.56,"u23":3.34,"u31":3.61,"i1":36.5,"i2":37.0,"i3":36.0},
{"t":"2016-09-28T11:00","u12":3.43,"u23":3.16,"u31":3.34,"i1":39.5,"i2":40.0,"i3":39.0},
{"t":"2016-09-28T11:30","u12":3.52,"u23":2.98,"u31":3.25,"i1":41.8,"i2":42.5,"i3":41.0},
{"t":"2016-09-28T12:00","u12":3.61,"u23":3.21,"u31":3.34,"i1":43.0,"i2":43.7,"i3":42.2},
{"t":"2016-09-28T12:30","u12":3.56,"u23":3.25,"u31":3.52,"i1":43.2,"i2":43.9,"i3":42.4},
{"t":"2016-09-28T13:00","u12":3.65,"u23":3.34,"u31":3.52,"i1":42.8,"i2":43.5,"i3":42.0},
{"t":"2016-09-28T13:30","u12":3.61,"u23":3.34,"u31":3.43,"i1":41.5,"i2":42.2,"i3":40.7},
{"t":"2016-09-28T13:48","u12":4.0,"u23":3.52,"u31":3.65,"i1":40.8,"i2":41.5,"i3":40.0},
{"t":"2016-09-28T14:00","u12":3.65,"u23":3.43,"u31":3.56,"i1":40.0,"i2":40.5,"i3":39.5},
{"t":"2016-09-28T14:30","u12":3.7,"u23":3.38,"u31":3.52,"i1":37.0,"i2":37.5,"i3":36.5},
{"t":"2016-09-28T15:00","u12":3.79,"u23":3.47,"u31":3.65,"i1":33.0,"i2":33.5,"i3":32.5},
{"t":"2016-09-28T15:30","u12":3.7,"u23":3.38,"u31":3.61,"i1":29.0,"i2":29.3,"i3":28.7},
{"t":"2016-09-28T16:00","u12":3.83,"u23":3.47,"u31":3.7,"i1":24.5,"i2":24.8,"i3":24.2},
{"t":"2016-09-28T16:30","u12":3.7,"u23":3.34,"u31":3.56,"i1":21.0,"i2":21.3,"i3":20.7},
{"t":"2016-09-28T17:00","u12":2.98,"u23":2.76,"u31":2.89,"i1":17.0,"i2":17.3,"i3":16.7},
{"t":"2016-09-28T17:30","u12":2.09,"u23":1.73,"u31":2.0,"i1":12.5,"i2":12.5,"i3":12.5},
{"t":"2016-09-28T18:00","u12":1.42,"u23":1.11,"u31":1.29,"i1":8.0,"i2":8.0,"i3":8.0},
{"t":"2016-09-28T18:30","u12":0.75,"u23":0.39,"u31":0.66,"i1":1.5,"i2":1.5,"i3":1.5},
{"t":"2016-09-28T19:00","u12":0.04,"u23":0.0,"u31":0.04,"i1":0.25,"i2":0.25,"i3":0.25},
{"t":"2016-09-28T19:30","u12":0.75,"u23":0.48,"u31":0.84,"i1":0.25,"i2":0.25,"i3":0.25},
{"t":"2016-09-28T20:00","u12":1.2,"u23":1.02,"u31":1.2,"i1":0.25,"i2":0.25,"i3":0.25},
{"t":"2016-09-28T20:30","u12":1.73,"u23":1.11,"u31":1.73,"i1":0.25,"i2":0.25,"i3":0.25},
{"t":"2016-09-28T21:00","u12":1.2,"u23":0.66,"u31":1.38,"i1":0.25,"i2":0.25,"i3":0.25},
{"t":"2016-09-28T21:30","u12":1.91,"u23":1.2,"u31":1.96,"i1":0.25,"i2":0.25,"i3":0.25},
{"t":"2016-09-28T22:00","u12":1.38,"u23":1.02,"u31":1.64,"i1":0.25,"i2":0.25,"i3":0.25},
{"t":"2016-09-28T22:30","u12":1.64,"u23":1.38,"u31":1.78,"i1":0.25,"i2":0.25,"i3":0.25},
{"t":"2016-09-28T23:00","u12":1.73,"u23":1.46,"u31":2.0,"i1":0.25,"i2":0.25,"i3":0.25},
{"t":"2016-09-28T23:18","u12":2.36,"u23":1.82,"u31":2.4,"i1":0.25,"i2":0.25,"i3":0.25},
{"t":"2016-09-28T23:30","u12":1.64,"u23":1.38,"u31":2.0,"i1":0.25,"i2":0.25,"i3":0.25},
{"t":"2016-09-29T00:00","u12":2.09,"u23":1.64,"u31":2.18,"i1":0.25,"i2":0.25,"i3":0.25},
{"t":"2016-09-29T00:30","u12":1.96,"u23":1.69,"u31":2.27,"i1":0.25,"i2":0.25,"i3":0.25},
{"t":"2016-09-29T01:00","u12":2.09,"u23":1.82,"u31":2.36,"i1":0.25,"i2":0.25,"i3":0.25},
{"t":"2016-09-29T01:30","u12":2.18,"u23":1.87,"u31":2.36,"i1":0.25,"i2":0.25,"i3":0.25},
{"t":"2016-09-29T02:00","u12":2.36,"u23":2.0,"u31":2.54,"i1":0.25,"i2":0.25,"i3":0.25},
{"t":"2016-09-29T02:30","u12":2.45,"u23":2.13,"u31":2.63,"i1":0.25,"i2":0.25,"i3":0.25},
{"t":"2016-09-29T03:00","u12":2.45,"u23":2.18,"u31":2.76,"i1":0.25,"i2":0.25,"i3":0.25},
{"t":"2016-09-29T03:30","u12":2.36,"u23":2.09,"u31":2.67,"i1":0.25,"i2":0.25,"i3":0.25},
{"t":"2016-09-29T04:00","u12":2.31,"u23":2.04,"u31":2.63,"i1":0.25,"i2":0.25,"i3":0.25},
{"t":"2016-09-29T04:30","u12":2.27,"u23":1.96,"u31":2.58,"i1":0.25,"i2":0.25,"i3":0.25},
{"t":"2016-09-29T05:00","u12":2.18,"u23":1.91,"u31":2.49,"i1":0.25,"i2":0.25,"i3":0.25},
{"t":"2016-09-29T05:30","u12":1.87,"u23":1.73,"u31":2.09,"i1":0.25,"i2":0.25,"i3":0.25},
{"t":"2016-09-29T06:00","u12":1.24,"u23":0.75,"u31":1.29,"i1":0.25,"i2":0.25,"i3":0.25},
{"t":"2016-09-29T06:30","u12":0.97,"u23":0.53,"u31":1.24,"i1":0.3,"i2":0.3,"i3":0.3},
{"t":"2016-09-29T07:00","u12":0.75,"u23":0.17,"u31":0.97,"i1":2.5,"i2":2.5,"i3":2.5},
{"t":"2016-09-29T07:30","u12":1.42,"u23":0.75,"u31":1.46,"i1":7.8,"i2":7.8,"i3":7.8},
{"t":"2016-09-29T08:00","u12":1.2,"u23":0.84,"u31":1.2,"i1":14.0,"i2":14.0,"i3":14.0},
{"t":"2016-09-29T08:30","u12":2.63,"u23":2.27,"u31":2.54,"i1":20.0,"i2":20.3,"i3":19.7},
{"t":"2016-09-29T09:00","u12":3.25,"u23":2.89,"u31":3.07,"i1":25.0,"i2":25.3,"i3":24.7},
{"t":"2016-09-29T09:30","u12":3.16,"u23":2.76,"u31":3.07,"i1":29.0,"i2":29.3,"i3":28.7},
{"t":"2016-09-29T10:00","u12":3.34,"u23":3.03,"u31":3.12,"i1":32.2,"i2":32.7,"i3":31.7},
{"t":"2016-09-29T10:30","u12":3.25,"u23":2.98,"u31":3.16,"i1":35.5,"i2":36.0,"i3":35.0},
{"t":"2016-09-29T11:00","u12":3.34,"u23":3.07,"u31":3.25,"i1":38.5,"i2":39.0,"i3":38.0},
{"t":"2016-09-29T11:30","u12":3.43,"u23":3.07,"u31":3.25,"i1":41.0,"i2":41.7,"i3":40.2},
{"t":"2016-09-29T12:00","u12":4.23,"u23":3.79,"u31":3.96,"i1":42.5,"i2":43.2,"i3":41.7},
{"t":"2016-09-29T12:30","u12":4.37,"u23":4.05,"u31":4.19,"i1":43.3,"i2":44.0,"i3":42.5},
{"t":"2016-09-29T13:00","u12":4.52,"u23":4.19,"u31":4.28,"i1":43.6,"i2":44.3,"i3":42.8},
{"t":"2016-09-29T13:12","u12":4.46,"u23":4.14,"u31":4.23,"i1":43.8,"i2":44.5,"i3":43.0}
]},
"layer":[
 {"data":{"values":[{}]},
  "mark":{"type":"rule","color":"#a9adb3","strokeWidth":1.2},
  "encoding":{"y":{"datum":0,"type":"quantitative","scale":{"domain":[-0.975,5.916],"nice":false,"zero":false},"axis":null}}},
 {"data":{"values":[{}]},
  "mark":{"type":"point","opacity":0},
  "encoding":{"y":{"datum":0,"type":"quantitative","scale":{"domain":[-0.22,56.05],"nice":false,"zero":false},
   "axis":{"orient":"left","offset":71,"values":[0,1,2,3,5,6,7,9,10,11,13,14,15,17,18,19,21,22,23,25,26,27,29,30,31,33,34,35,37,38,39,41,42,43,45,46,47,49,50,51,53,54,55,56],"labels":false,"grid":false,"domain":false,"ticks":true,"tickSize":3,"tickColor":"#b0b5bc","title":null}}}},
 {"data":{"values":[{}]},
  "mark":{"type":"point","opacity":0},
  "encoding":{"y":{"datum":0,"type":"quantitative","scale":{"domain":[-0.975,5.916],"nice":false,"zero":false},
   "axis":{"orient":"left","offset":0,"values":[-0.9,-0.8,-0.7,-0.6,-0.4,-0.3,-0.2,-0.1,0.1,0.2,0.3,0.4,0.6,0.7,0.8,0.9,1.1,1.2,1.3,1.4,1.6,1.7,1.8,1.9,2.1,2.2,2.3,2.4,2.6,2.7,2.8,2.9,3.1,3.2,3.3,3.4,3.6,3.7,3.8,3.9,4.1,4.2,4.3,4.4,4.6,4.7,4.8,4.9,5.1,5.2,5.3,5.4,5.6,5.7,5.8,5.9],"labels":false,"grid":false,"domain":false,"ticks":true,"tickSize":3,"tickColor":"#b0b5bc","title":null}}}},
 {"transform":[{"fold":["i3","i2","i1"],"as":["series","value"]}],
  "mark":{"type":"line","strokeWidth":2},
  "encoding":{
   "x":{"field":"t","type":"temporal","scale":{"domain":[{"year":2016,"month":9,"date":22,"hours":13,"minutes":40},{"year":2016,"month":9,"date":29,"hours":13,"minutes":12}]},
     "axis":{"values":[{"year":2016,"month":9,"date":23},{"year":2016,"month":9,"date":24},{"year":2016,"month":9,"date":25},{"year":2016,"month":9,"date":26},{"year":2016,"month":9,"date":27},{"year":2016,"month":9,"date":28},{"year":2016,"month":9,"date":29}],
       "format":"%Y-%m-%d %H:%M:%S","ticks":false,"labelPadding":12,"title":"Time","titlePadding":9,"grid":true,"labelFlush":false,"labelOverlap":false}},
   "y":{"field":"value","type":"quantitative","scale":{"domain":[-0.22,56.05],"nice":false,"zero":false},
     "axis":{"orient":"left","offset":71,"title":"I [A]","values":[0,4,8,12,16,20,24,28,32,36,40,44,48,52],"labelExpr":"replace(format(datum.value,'.2f'),'.',',')","grid":true,"tickSize":6,"labelPadding":3,"titlePadding":6,"domainColor":"#b4b8be"}},
   "color":{"field":"series","type":"nominal",
     "scale":{"domain":["u12","u23","u31","i1","i2","i3"],"range":["#10176b","#7b1a1a","#2d5f1e","#4d7bd4","#e27b7b","#9cbf1f"]},
     "legend":{"title":null,"orient":"none","legendX":1027,"legendY":149,"direction":"vertical","symbolType":"stroke","symbolSize":484,"symbolStrokeWidth":2.5,"labelFont":"Noto Sans","labelFontSize":12,"labelColor":"#222222","labelOffset":7,"rowPadding":16.5,"padding":7,"strokeColor":"#8c96a0","fillColor":"#ffffff",
       "labelExpr":"datum.label=='u12'?'Uover12(Avg) [%]':datum.label=='u23'?'Uover23(Avg) [%]':datum.label=='u31'?'Uover31(Avg) [%]':datum.label=='i1'?'I1(Avg) [A]':datum.label=='i2'?'I2(Avg) [A]':'I3(Avg) [A]'"}}
  }},
 {"transform":[{"fold":["u23","u31","u12"],"as":["series","value"]}],
  "mark":{"type":"line","strokeWidth":2},
  "encoding":{
   "x":{"field":"t","type":"temporal"},
   "y":{"field":"value","type":"quantitative","scale":{"domain":[-0.975,5.916],"nice":false,"zero":false},
     "axis":{"orient":"left","offset":0,"title":"Uover [%]","values":[-0.5,0,0.5,1,1.5,2,2.5,3,3.5,4,4.5,5,5.5],"labelExpr":"replace(replace(format(datum.value,'.3f'),'.',','),'−','-')","grid":true,"tickSize":6,"labelPadding":6,"titlePadding":6}},
   "color":{"field":"series","type":"nominal"}
  }}
],
"resolve":{"scale":{"y":"independent"},"axis":{"y":"independent"}}
}
